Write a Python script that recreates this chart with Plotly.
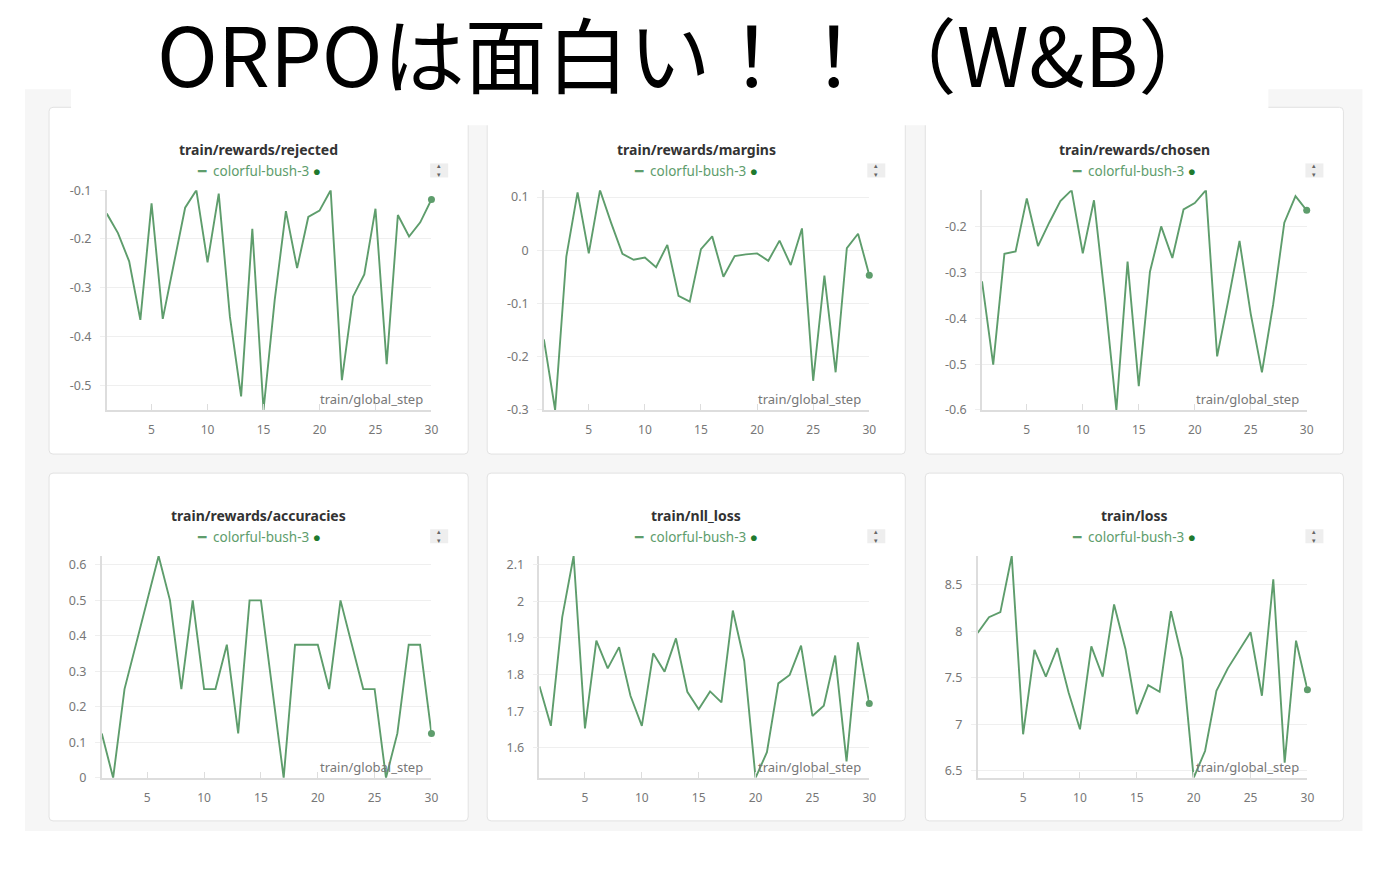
import plotly.graph_objects as go

# W&B run "colorful-bush-3", 30 logged steps
steps = list(range(1, 31))

rejected = [-0.148, -0.188, -0.246, -0.366, -0.127, -0.364, -0.25, -0.136, -0.1, -0.248,
            -0.107, -0.36, -0.523, -0.179, -0.551, -0.325, -0.143, -0.26, -0.155, -0.142,
            -0.1, -0.49, -0.318, -0.273, -0.138, -0.457, -0.151, -0.195, -0.166, -0.119]
margins = [-0.168, -0.301, -0.012, 0.109, -0.006, 0.113, 0.051, -0.007, -0.018, -0.014,
           -0.032, 0.01, -0.086, -0.097, 0.002, 0.026, -0.05, -0.011, -0.008, -0.006,
           -0.02, 0.018, -0.028, 0.041, -0.246, -0.048, -0.23, 0.004, 0.031, -0.047]
chosen = [-0.319, -0.501, -0.259, -0.254, -0.138, -0.242, -0.191, -0.144, -0.12, -0.258,
          -0.142, -0.36, -0.6, -0.276, -0.548, -0.298, -0.199, -0.268, -0.162, -0.148,
          -0.12, -0.483, -0.36, -0.231, -0.39, -0.518, -0.37, -0.191, -0.133, -0.164]
accuracies = [0.125, 0, 0.25, 0.375, 0.5, 0.625, 0.5, 0.25, 0.5, 0.25,
              0.25, 0.375, 0.125, 0.5, 0.5, 0.25, 0, 0.375, 0.375, 0.375,
              0.25, 0.5, 0.375, 0.25, 0.25, 0, 0.125, 0.375, 0.375, 0.125]
nll_loss = [1.768, 1.66, 1.957, 2.124, 1.653, 1.893, 1.817, 1.875, 1.742, 1.66,
            1.858, 1.808, 1.899, 1.753, 1.705, 1.754, 1.724, 1.975, 1.838, 1.518,
            1.588, 1.776, 1.799, 1.879, 1.687, 1.715, 1.852, 1.563, 1.888, 1.721]
loss = [7.982, 8.151, 8.205, 8.809, 6.892, 7.799, 7.511, 7.82, 7.342, 6.946,
        7.838, 7.511, 8.288, 7.81, 7.108, 7.421, 7.349, 8.216, 7.702, 6.424,
        6.712, 7.36, 7.601, 7.799, 7.989, 7.306, 8.558, 6.586, 7.899, 7.371]

panel_titles = ["train/rewards/rejected", "train/rewards/margins", "train/rewards/chosen",
                "train/rewards/accuracies", "train/nll_loss", "train/loss"]
run_name = "colorful-bush-3"
x_label = "train/global_step"
x_ticks = [5, 10, 15, 20, 25, 30]
rejected_ticks = [-0.5, -0.4, -0.3, -0.2, -0.1]
margins_ticks = [-0.3, -0.2, -0.1, 0, 0.1]
chosen_ticks = [-0.6, -0.5, -0.4, -0.3, -0.2]
accuracies_ticks = [0, 0.1, 0.2, 0.3, 0.4, 0.5, 0.6]
nll_loss_ticks = [1.6, 1.7, 1.8, 1.9, 2, 2.1]
loss_ticks = [6.5, 7, 7.5, 8, 8.5]

series = [rejected, margins, chosen, accuracies, nll_loss, loss]
y_ticks = [rejected_ticks, margins_ticks, chosen_ticks, accuracies_ticks, nll_loss_ticks, loss_ticks]

# figure is kept smaller than the window so the page does not scroll.
# Positions below are given in screenshot pixels; SX/SY/DX/DY map them
# back onto the figure (page offset + screenshot scaling, measured).
W, H = 1367, 858
SX, SY = 0.9946, 0.978
DX, DY = 8, 18.3
LINE = "#5e9d6c"
DOT = "#1f7a2e"
FONT = "Noto Sans"


def px(x):
    return (x / SX - DX) / W


def py(y):
    return 1 - (y / SY - DY) / H


def rounded_rect(x0, y0, x1, y1, r=4):
    # path in paper coords with small rounded corners
    a, b, c, d = px(x0), py(y0), px(x1), py(y1)
    rx, ry = r / W, r / H
    return (f"M {a + rx},{b} L {c - rx},{b} Q {c},{b} {c},{b - ry} "
            f"L {c},{d + ry} Q {c},{d} {c - rx},{d} L {a + rx},{d} "
            f"Q {a},{d} {a},{d + ry} L {a},{b - ry} Q {a},{b} {a + rx},{b} Z")


# card boxes and plot areas, in screenshot pixels
cards = [(49, 108, 468, 454), (487, 108, 905, 454), (925, 108, 1343, 454),
         (49, 473, 468, 820), (487, 473, 905, 820), (925, 473, 1343, 820)]
plot_x = [(106.7, 431.3), (543.7, 869), (981.7, 1306.3),
          (101.7, 431.3), (539.3, 869), (977.3, 1307)]
plot_y = [(190.7, 410), (190.7, 410), (190.7, 410),
          (555.7, 777), (555.7, 777), (555.7, 777)]

fig = go.Figure()

shapes = [dict(type="rect", xref="paper", yref="paper", x0=px(25), x1=px(1362),
               y0=py(90), y1=py(830), fillcolor="#f6f6f6", line_width=0, layer="below")]
annotations = []

for i, (vals, ticks, title) in enumerate(zip(series, y_ticks, panel_titles)):
    n = "" if i == 0 else str(i + 1)
    cx0, cy0, cx1, cy1 = cards[i]
    (x0, x1), (y0, y1) = plot_x[i], plot_y[i]
    mid = (cx0 + cx1) / 2

    fig.add_trace(go.Scatter(
        x=steps, y=vals, mode="lines", line=dict(color=LINE, width=1.9),
        xaxis="x" + n, yaxis="y" + n, showlegend=False, hoverinfo="x+y"))
    fig.add_trace(go.Scatter(
        x=steps[-1:], y=vals[-1:], mode="markers", marker=dict(color=LINE, size=7),
        xaxis="x" + n, yaxis="y" + n, showlegend=False, cliponaxis=False))

    fig.layout["xaxis" + n] = dict(
        domain=[px(x0), px(x1)], anchor="y" + n, range=[1, 30],
        tickvals=x_ticks, ticks="inside", ticklen=6, tickcolor="#dddddd",
        showline=True, linecolor="#dddddd", linewidth=1.5, showgrid=False, zeroline=False,
        ticklabelstandoff=8, tickfont=dict(family=FONT, size=12, color="#777777"))
    fig.layout["yaxis" + n] = dict(
        domain=[py(y1), py(y0)], anchor="x" + n, range=[min(vals), max(vals)],
        tickvals=ticks, ticktext=[f"{t:g}" for t in ticks],
        ticks="outside", ticklen=5, tickcolor="#efefef",
        showline=True, linecolor="#dddddd", linewidth=1.5,
        showgrid=True, gridcolor="#efefef", zeroline=False,
        ticklabelstandoff=6, tickfont=dict(family=FONT, size=12.5, color="#777777"))

    shapes.append(dict(type="path", xref="paper", yref="paper",
                       path=rounded_rect(cx0, cy0, cx1, cy1),
                       fillcolor="white", line=dict(color="#e2e2e2", width=1), layer="below"))
    # sort toggle in the corner
    shapes.append(dict(type="rect", xref="paper", yref="paper",
                       x0=px(cx1 - 38), x1=px(cx1 - 20), y0=py(cy0 + 56), y1=py(cy0 + 70),
                       fillcolor="#eeeeee", line_width=0, layer="below"))
    annotations.append(dict(x=px(cx1 - 29), y=py(cy0 + 63), xref="paper", yref="paper",
                            xanchor="center", yanchor="middle",
                            text="▴<br>▾", showarrow=False,
                            font=dict(family="DejaVu Sans", size=7, color="#666666")))

    annotations.append(dict(x=px(mid), y=py(cy0 + 42), xref="paper", yref="paper",
                            xanchor="center", yanchor="middle",
                            text=f"<b>{title}</b>", showarrow=False,
                            font=dict(family=FONT, size=14, color="#333333")))
    annotations.append(dict(x=px(mid), y=py(cy0 + 64), xref="paper", yref="paper",
                            xanchor="center", yanchor="middle",
                            text=(f"<span style='color:{LINE}'>━</span>&nbsp; {run_name} "
                                  f"<span style='color:{DOT}'>●</span>"),
                            showarrow=False,
                            font=dict(family=FONT, size=13.5, color="#5e9d6c")))
    annotations.append(dict(x=px(x1 - 6), y=py(y1 - 11), xref="paper", yref="paper",
                            text=x_label, showarrow=False, xanchor="right", yanchor="middle",
                            font=dict(family=FONT, size=13, color="#777777")))

# white band behind the headline, overlapping the top cards
shapes.append(dict(type="rect", xref="paper", yref="paper", x0=px(71), x1=px(1268),
                   y0=1, y1=py(126), fillcolor="white", line_width=0, layer="below"))

# fullwidth ）leaves empty space on the right, so the box sits right of the ink centre
annotations.append(dict(x=px(688), y=py(52.5), xref="paper", yref="paper",
                        xanchor="center", yanchor="middle",
                        text="ORPOは面白い！！（W&B）", showarrow=False,
                        font=dict(family="Noto Sans CJK JP", size=82, color="black")))

fig.update_layout(
    width=W, height=H, autosize=False,
    margin=dict(l=0, r=0, t=0, b=0),
    paper_bgcolor="white", plot_bgcolor="rgba(0,0,0,0)",
    shapes=shapes, annotations=annotations,
    hovermode="closest",
)

fig.write_html("out.html")
